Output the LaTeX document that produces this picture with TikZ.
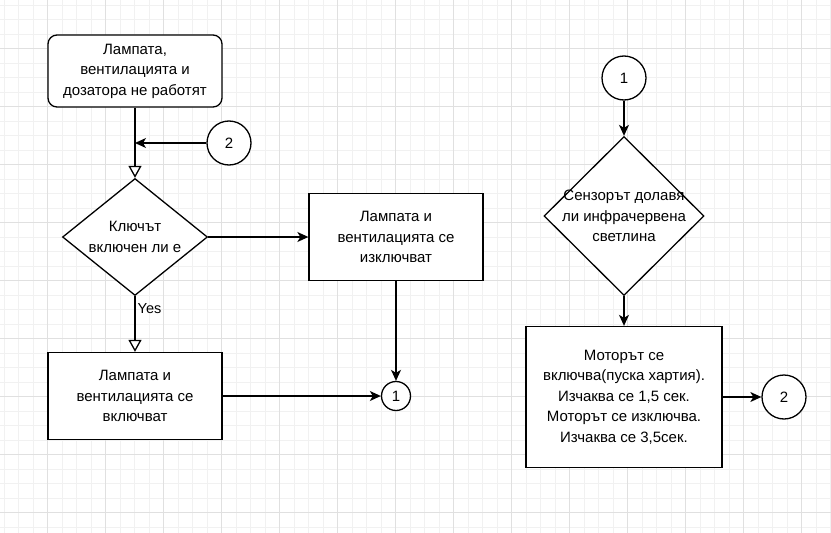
\documentclass[tikz,border=0pt]{standalone}
\usepackage{fontspec}
\setmainfont{Liberation Sans}
\usetikzlibrary{arrows.meta, shapes.geometric}
\definecolor{grdlight}{HTML}{F1F1F1}
\definecolor{grddark}{HTML}{E0E0E0}
\tikzset{%
    txt/.style={font=\fontsize{15}{20.5}\selectfont, align=center},
    blk/.style={rectangle, draw, line width=1.3pt, fill=white, inner sep=0pt, txt},
    term/.style={blk, rounded corners=9pt},
    dec/.style={diamond, draw, line width=1.3pt, fill=white, inner sep=0pt},
    con/.style={circle, draw, line width=1.3pt, fill=white, inner sep=0pt, txt},
    lnk/.style={line width=1.3pt, -{Stealth[length=11pt, width=10pt, inset=3pt]}},
    lnko/.style={line width=1.3pt, -{Triangle[open, length=12pt, width=13pt, fill=white]}},
    grdm/.style={grdlight, line width=0.8pt},
    grdM/.style={grddark, line width=0.8pt},
}

\begin{document}
\begin{tikzpicture}[x=1pt, y=-1pt]
    \useasboundingbox (0,0) rectangle (831,533);
    % background grid
    \foreach \i in {0,...,57} \draw [grdm] ({4.2+14.5*\i},0) -- ({4.2+14.5*\i},533);
    \foreach \j in {0,...,36} \draw [grdm] (0,{5.2+14.5*\j}) -- (831,{5.2+14.5*\j});
    \foreach \i in {0,...,13} \draw [grdM] ({47.7+58*\i},0) -- ({47.7+58*\i},533);
    \foreach \j in {0,...,8} \draw [grdM] (0,{48.7+58*\j}) -- (831,{48.7+58*\j});

    % left part
    \node [term, minimum width=174pt, minimum height=72pt] (start) at (135,71) {Лампата,\\вентилацията и\\дозатора не работят};
    \node [con, minimum size=44pt] (c2a) at (229,143) {2};
    \node [dec, minimum width=145pt, minimum height=117pt, label={[txt]center:Ключът\\включен ли е}] (key) at (135,237) {};
    \node [blk, minimum width=174pt, minimum height=87pt] (off) at (396,237) {Лампата и\\вентилацията се\\изключват};
    \node [blk, minimum width=174pt, minimum height=87pt] (on) at (135,396) {Лампата и\\вентилацията се\\включват};
    \node [con, minimum size=29pt] (c1a) at (396,396) {1};

    \draw [lnko] (start) -- (key);
    \draw [lnk] (c2a) -- (start.south |- c2a.west);
    \draw [lnk] (key) -- (off);
    \draw [lnko] (key) -- node [pos=0.22, right, inner sep=2pt, font=\fontsize{14.5}{17}\selectfont] {Yes} (on);
    \draw [lnk] (on) -- (c1a);
    \draw [lnk] (off) -- (c1a);

    % right part
    \node [con, minimum size=44pt] (c1b) at (624,78) {1};
    \node [dec, minimum width=160pt, minimum height=159pt, label={[txt]center:Сензорът долавя\\ли инфрачервена\\светлина}] (sens) at (624,216) {};
    \node [blk, minimum width=196pt, minimum height=141pt] (motor) at (624,397) {Моторът се\\включва(пуска хартия).\\Изчаква се 1,5 сек.\\Моторът се изключва.\\Изчаква се 3,5сек.};
    \node [con, minimum size=44pt] (c2b) at (784,397) {2};

    \draw [lnk] (c1b) -- (sens);
    \draw [lnk] (sens) -- (motor);
    \draw [lnk] (motor) -- (c2b);
\end{tikzpicture}
\end{document}
